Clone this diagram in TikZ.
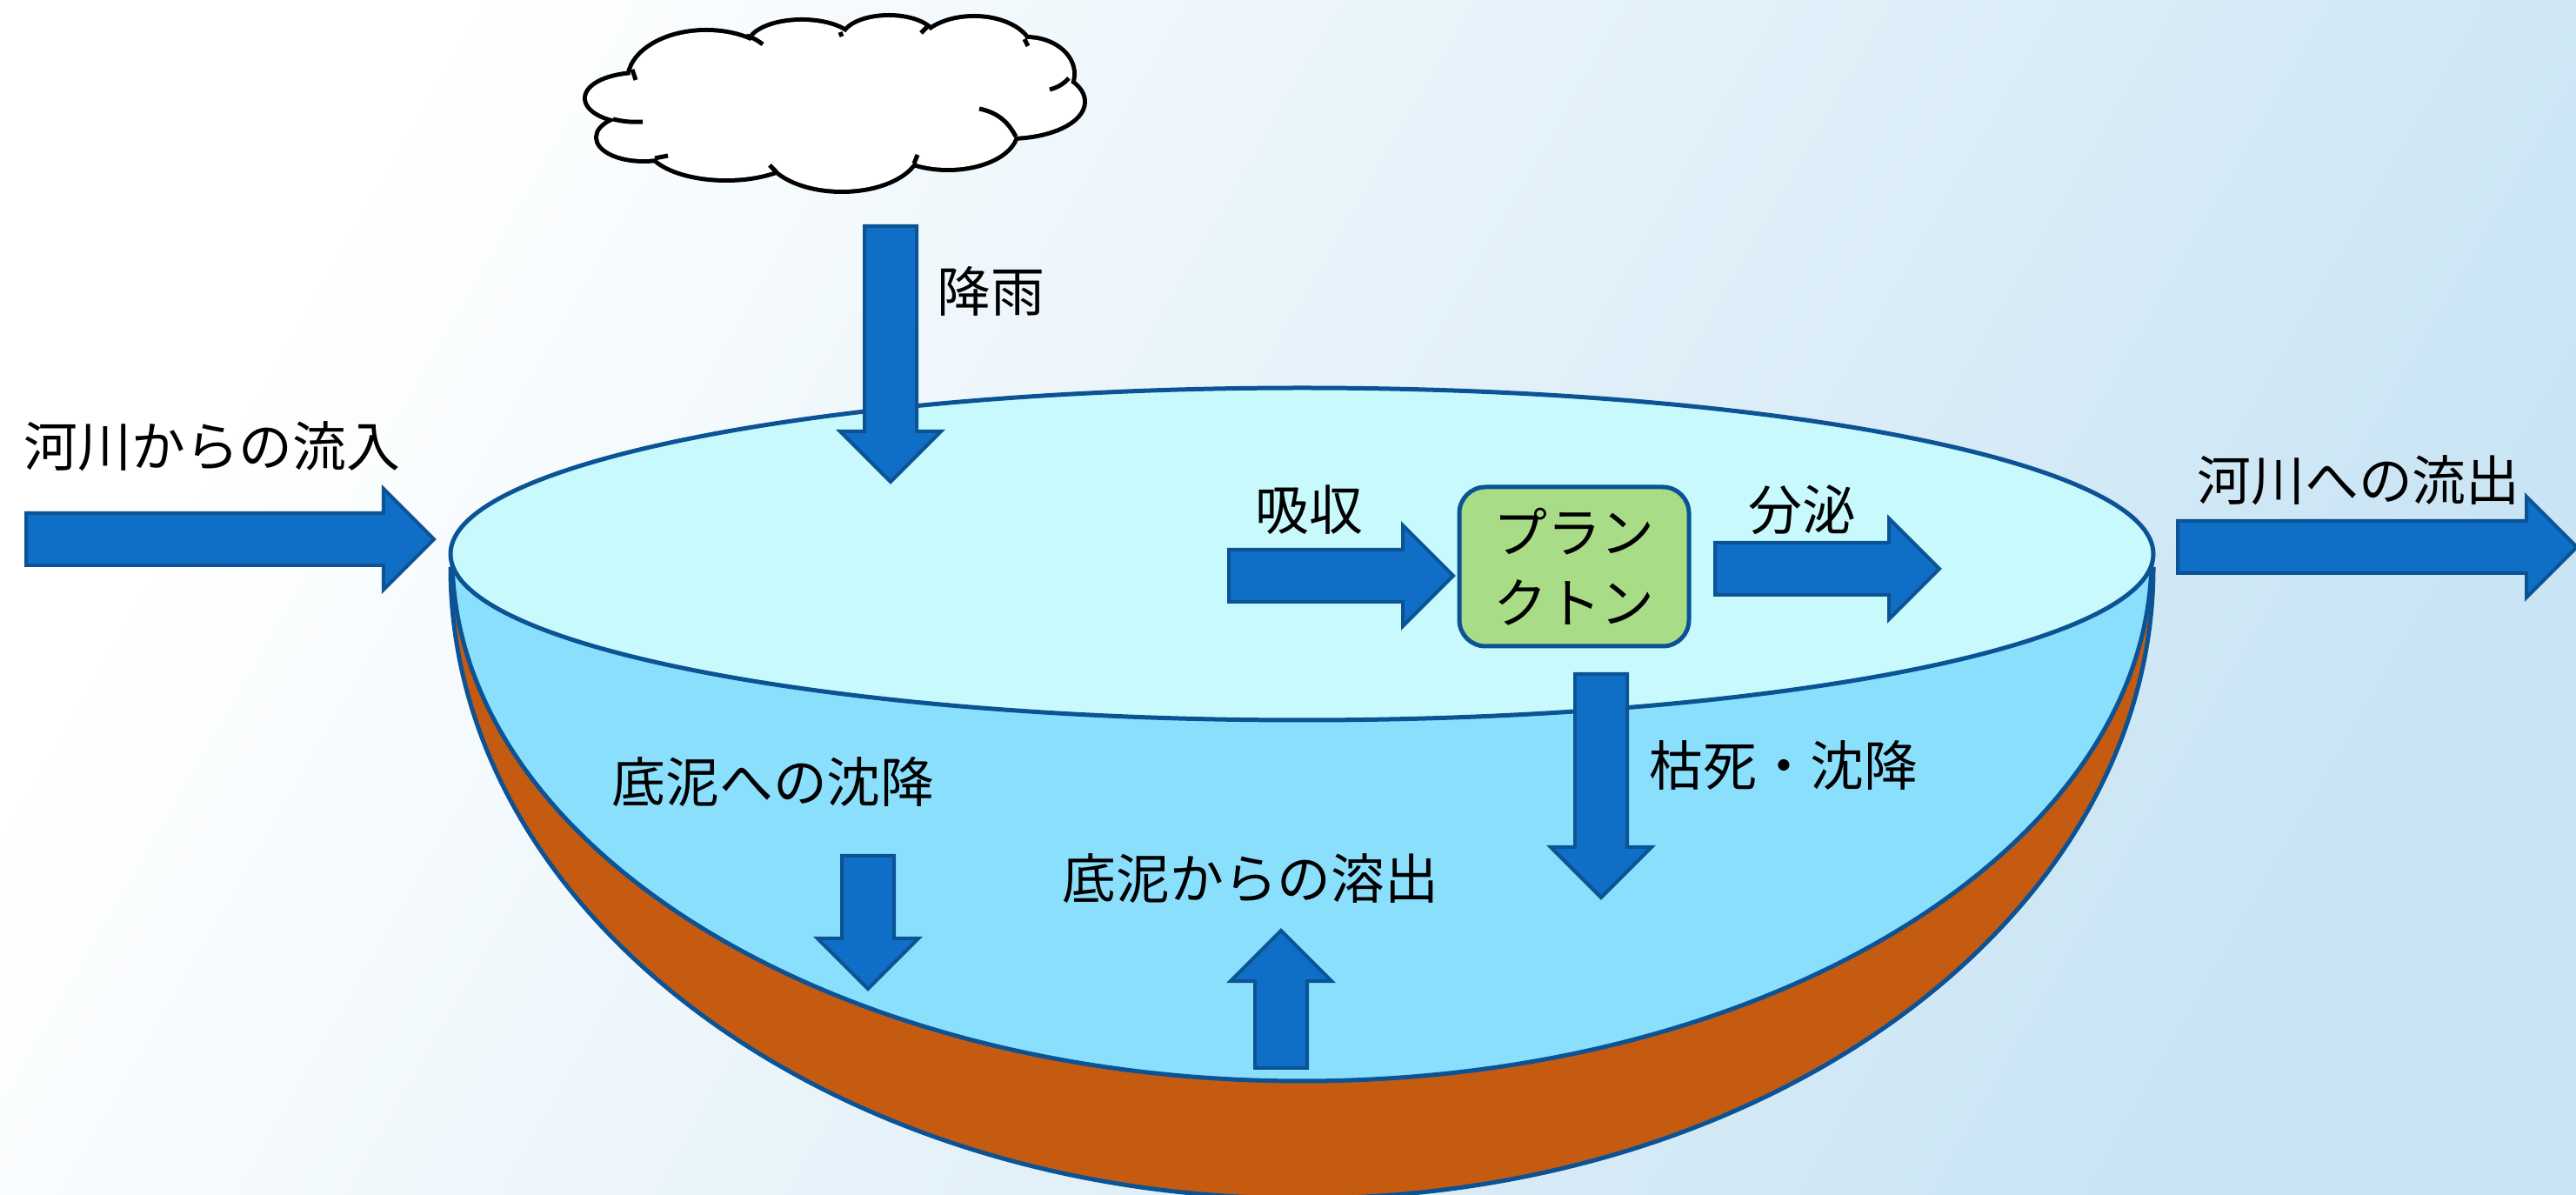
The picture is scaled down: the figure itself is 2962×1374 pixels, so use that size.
\documentclass[tikz,border=0pt]{standalone}
\usepackage{fontspec}
\newfontfamily\jp{Noto Sans CJK JP}
\usetikzlibrary{shapes.arrows,positioning}

\definecolor{bgblue}{HTML}{C9E4F4}
\definecolor{surface}{HTML}{C8F9FC}
\definecolor{water}{HTML}{8ADFFD}
\definecolor{mud}{HTML}{C55A11}
\definecolor{rim}{HTML}{0B5394}
\definecolor{flow}{HTML}{0F6FC6}
\definecolor{plank}{HTML}{A9DC87}

\begin{document}
\begin{tikzpicture}[x=0.1mm, y=0.1mm,
  flowarrow/.style={single arrow, draw=rim, fill=flow, line width=0.4mm,
    single arrow head extend=2.8mm, single arrow head indent=0pt,
    inner xsep=0pt, inner ysep=2.8mm, anchor=tail},
  lbl/.style={font=\jp\fontsize{17.6pt}{23.2pt}\selectfont, inner sep=0pt},
  box/.style={draw=rim, fill=plank, line width=0.5mm, rounded corners=3mm,
    minimum width=26.4mm, minimum height=18.3mm, align=center,
    font=\jp\fontsize{17.6pt}{23.2pt}\selectfont},
  rimline/.style={draw=rim, line width=0.5mm}]
  % background
  \shade[top color=white, bottom color=bgblue, shading angle=60]
    (0,0) rectangle (2962,-1374);
  \useasboundingbox (0,0) rectangle (2962,-1374);

  % lake: bed, water body, surface
  \path[fill=mud, rimline] (518,-652)
    arc[start angle=180, end angle=360, x radius=979, y radius=726];
  \path[fill=water, rimline] (520,-640)
    arc[start angle=180, end angle=360, x radius=977, y radius=603];
  \path[fill=surface, rimline] (1497,-637) ellipse[x radius=979, y radius=191];

  % cloud: stroke the puffs, then fill them so only the outline is left
  \def\puffs{812/92/88/55, 922/52/60/27, 1022/45/52/25, 1120/60/65/39,
    1180/85/53/40, 1160/117/85/40, 1090/150/78/43, 968/170/88/48,
    835/165/90/40, 740/158/52/25, 735/113/60/27}
  \foreach \cx/\cy/\rx/\ry in \puffs
    \draw[line width=1mm] (\cx,-\cy) ellipse[x radius=\rx, y radius=\ry];
  \foreach \cx/\cy/\rx/\ry in \puffs
    \fill[white] (\cx,-\cy) ellipse[x radius=\rx, y radius=\ry];
  \fill[white] (960,-115) ellipse[x radius=200, y radius=60];
  \begin{scope}[line width=0.5mm]
    \draw (858,-41) to[bend left=10] (877,-51);
    \draw (966,-37) -- (968,-42);
    \draw (1066,-31) -- (1059,-38);
    \draw (1178,-45) -- (1182,-53);
    \draw (1229,-90) to[bend left=15] (1207,-103);
    \draw (1126,-125) to[bend left=25] (1168,-157);
    \draw (1055,-178) -- (1051,-188);
    \draw (885,-190) -- (893,-198);
    \draw (753,-182) -- (768,-179);
    \draw (705,-137) to[bend right=8] (739,-140);
    \draw (727,-80) -- (731,-92);
  \end{scope}

  % plankton
  \node[box] (plankton) at (1810,-651.5) {プラン\\クトン};

  % flows
  \node[flowarrow, minimum height=46.9mm] (inflow) at (28,-620) {};
  \node[flowarrow, minimum height=45.9mm] (outflow) at (2502,-629) {};
  \node[flowarrow, minimum height=29.4mm, rotate=-90] (rain) at (1024,-258) {};
  \node[flowarrow, minimum height=25.8mm] (absorb) at (1411,-662) {};
  \node[flowarrow, minimum height=25.8mm] (secrete) at (1970,-654) {};
  \node[flowarrow, minimum height=25.7mm, rotate=-90] (sink) at (1841,-773) {};
  \node[flowarrow, minimum height=15.3mm, rotate=-90] (settle) at (998,-982) {};
  \node[flowarrow, minimum height=15.8mm, rotate=90] (release) at (1473,-1230) {};

  % labels
  \node[lbl] (inflowlbl) at (244,-513) {河川からの流入};
  \node[lbl] (outflowlbl) at (2712,-552) {河川への流出};
  \node[lbl] (rainlbl) at (1139,-335) {降雨};
  \node[lbl] (absorblbl) at (1505,-586) {吸収};
  \node[lbl] (secretelbl) at (2072,-586) {分泌};
  \node[lbl] (sinklbl) at (2051,-880) {枯死・沈降};
  \node[lbl] (settlelbl) at (889,-899) {底泥への沈降};
  \node[lbl] (releaselbl) at (1438,-1010) {底泥からの溶出};
\end{tikzpicture}
\end{document}
